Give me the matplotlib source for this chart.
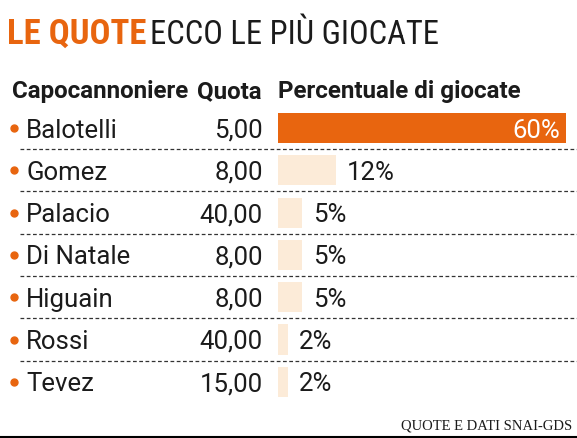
import matplotlib
matplotlib.use("Agg")
import matplotlib.pyplot as plt
import matplotlib.transforms as mtransforms

# data
players = ["Balotelli", "Gomez", "Palacio", "Di Natale", "Higuain", "Rossi", "Tevez"]
quote = ["5,00", "8,00", "40,00", "8,00", "8,00", "40,00", "15,00"]
perc = [60, 12, 5, 5, 5, 2, 2]

ORANGE = "#E8650F"
LIGHT = "#FCEBD8"
INK = "#1b1b1b"
COND = ["Roboto Condensed", "DejaVu Sans"]

W, H = 577, 438
fig = plt.figure(figsize=(W / 100, H / 100), dpi=100)
fig.patch.set_facecolor("white")

def fx(px):
    return px / W

def fy(py):
    return 1 - py / H

# bar axes: x in percent, y in rows
row0, step = 128, 42.3
n = len(players)
top = row0 - step / 2
bot = row0 + step * (n - 1) + step / 2
ax = fig.add_axes([fx(278), fy(bot), fx(566) - fx(278), (bot - top) / H])
ax.set_xlim(0, 60)
ax.set_ylim(n - 0.5, -0.5)
ax.axis("off")

ypos = list(range(n))
cols = [ORANGE if i == 0 else LIGHT for i in range(n)]
ax.barh(ypos, perc, height=0.71, color=cols, left=0)

fnt = "Roboto"
fs = 18.5
base = 9.5 / step  # baseline offset below row centre, in rows
tr = mtransforms.blended_transform_factory(fig.transFigure, ax.transData)
ax.plot([fx(14)] * n, ypos, "o", ms=5, color=ORANGE, transform=tr, clip_on=False)
for i, (p, q, v) in enumerate(zip(players, quote, perc)):
    ax.text(fx(26), i + base, p, transform=tr, color=INK, fontsize=fs,
            ha="left", va="baseline", family=fnt)
    ax.text(fx(263), i + base, q, transform=tr, color=INK, fontsize=fs,
            ha="right", va="baseline", family=fnt)
    if i == 0:
        ax.text(v - 1.2, i + base, f"{v}%", color="white", fontsize=fs,
                ha="right", va="baseline", family=fnt)
    else:
        ax.text(v + 2.3, i + base, f"{v}%", color=INK, fontsize=fs,
                ha="left", va="baseline", family=fnt)
    if i < n - 1:
        ax.plot([fx(20), 1.0], [i + 0.5, i + 0.5], transform=tr, color="#333333",
                lw=0.9, ls=(0, (3, 2)), clip_on=False)

# header row
hdr = dict(fontsize=17.4, fontweight="bold", color=INK, va="baseline", family=fnt)
fig.text(fx(12), fy(98), "Capocannoniere", ha="left", **hdr)
fig.text(fx(197), fy(98), "Quota", ha="left", **hdr)
fig.text(fx(278), fy(98), "Percentuale di giocate", ha="left", **hdr)

# title
fig.text(fx(7), fy(43.5), "LE QUOTE", ha="left", va="baseline", fontsize=25,
         fontweight="bold", color=ORANGE, family=COND)
fig.text(fx(150), fy(43.5), "ECCO LE PIÙ GIOCATE", ha="left", va="baseline",
         fontsize=23.5, color=INK, family=COND)

# source + bottom rule
fig.text(fx(572), fy(429), "QUOTE E DATI SNAI-GDS", ha="right", va="baseline",
         fontsize=10.5, color=INK, family="Liberation Serif")
fig.add_artist(plt.Line2D([0, 1], [fy(437), fy(437)], transform=fig.transFigure,
                          color="black", lw=1.5))

fig.savefig("out.png", dpi=100, facecolor="white")
